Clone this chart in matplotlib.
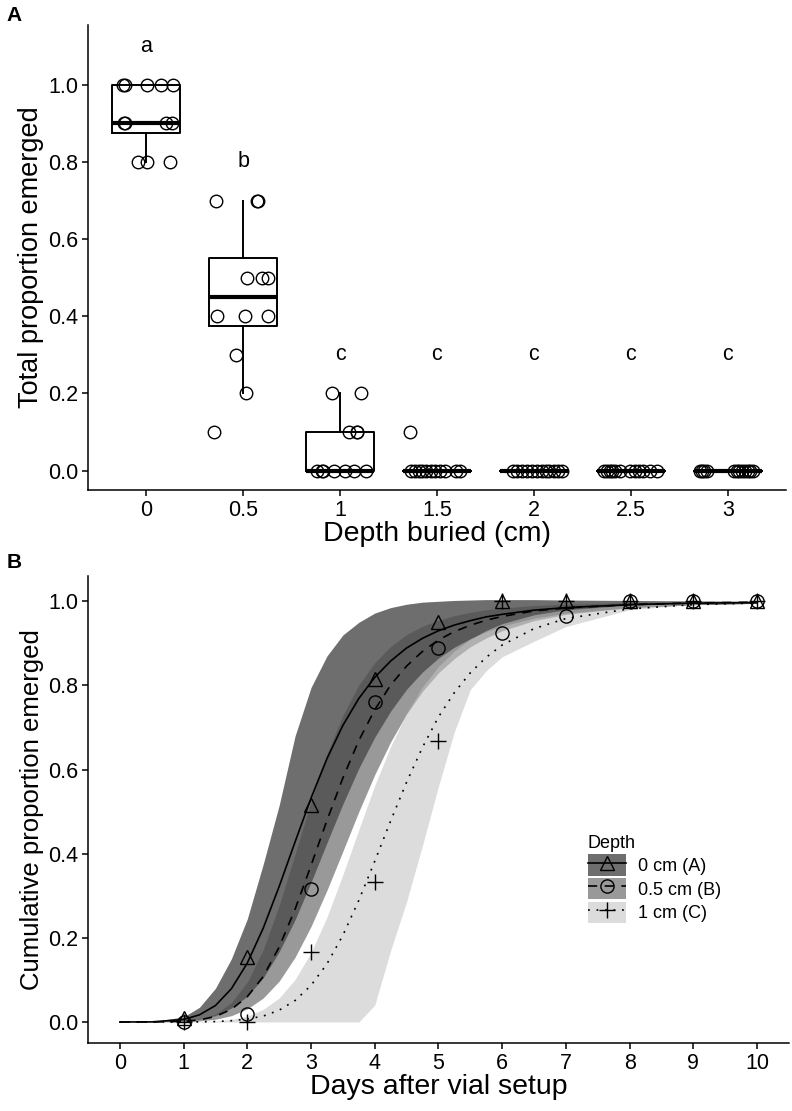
import numpy as np
import matplotlib
matplotlib.use("Agg")
import matplotlib.pyplot as plt
from matplotlib.patches import Patch
from matplotlib.lines import Line2D

plt.rcParams['font.family'] = ['Liberation Sans', 'DejaVu Sans']

# ---------------- panel A data ----------------
depths = ["0", "0.5", "1", "1.5", "2", "2.5", "3"]
letters = ["a", "b", "c", "c", "c", "c", "c"]
letters_y = [1.1, 0.8, 0.3, 0.3, 0.3, 0.3, 0.3]

prop_0 = [1, 1, 1, 1, 1, 0.9, 0.9, 0.9, 0.9, 0.8, 0.8, 0.8]
prop_05 = [0.7, 0.7, 0.7, 0.5, 0.5, 0.5, 0.4, 0.4, 0.4, 0.3, 0.2, 0.1]
prop_1 = [0.2, 0.2, 0.1, 0.1, 0.1, 0, 0, 0, 0, 0, 0, 0]
prop_15 = [0.1, 0, 0, 0, 0, 0, 0, 0, 0, 0, 0, 0]
prop_2 = [0] * 12
prop_25 = [0] * 12
prop_3 = [0] * 12

# horizontal jitter (category units)
jit_0 = [-0.24, -0.22, 0.01, 0.15, 0.28, -0.23, -0.22, 0.20, 0.27, -0.08, 0.01, 0.25]
jit_05 = [-0.28, 0.14, 0.155, 0.04, 0.20, 0.26, -0.27, 0.02, 0.26, -0.07, 0.03, -0.30]
jit_1 = [-0.08, 0.22, 0.09, 0.17, 0.18, -0.24, -0.19, -0.18, -0.06, 0.05, 0.14, 0.27]
jit_15 = [-0.28, -0.27, -0.23, -0.19, -0.15, -0.11, -0.06, -0.02, 0.03, 0.08, 0.2, 0.24]
jit_2 = [-0.22, -0.17, -0.12, -0.07, -0.02, 0.03, 0.08, 0.12, 0.16, 0.21, 0.25, 0.29]
jit_25 = [-0.28, -0.25, -0.22, -0.19, -0.16, -0.11, -0.01, 0.04, 0.08, 0.13, 0.2, 0.27]
jit_3 = [-0.29, -0.27, -0.25, -0.21, 0.06, 0.09, 0.12, 0.15, 0.18, 0.21, 0.23, 0.26]

props = [prop_0, prop_05, prop_1, prop_15, prop_2, prop_25, prop_3]
jits = [jit_0, jit_05, jit_1, jit_15, jit_2, jit_25, jit_3]

# ---------------- panel B data ----------------
days_obs = [1, 2, 3, 4, 5, 6, 7, 8, 9, 10]
obs_0 = [0.01, 0.155, 0.515, 0.815, 0.95, 1.0, 1.0, 1.0, 1.0, 1.0]
obs_05 = [0.0, 0.02, 0.315, 0.76, 0.89, 0.925, 0.965, 1.0, 1.0, 1.0]
obs_1 = [0.0, 0.0, 0.167, 0.333, 0.667, 1.0, 1.0, 1.0, 1.0, 1.0]

t = [0, 0.5, 1, 1.25, 1.5, 1.75, 2, 2.25, 2.5, 2.75, 3, 3.25, 3.5, 3.75,
     4, 4.25, 4.5, 4.75, 5, 5.25, 5.5, 5.75, 6, 6.5, 7, 8, 9, 10]
fit_0 = [0, 0.0002, 0.006, 0.017, 0.039, 0.079, 0.140, 0.223, 0.322, 0.428,
         0.532, 0.626, 0.705, 0.769, 0.819, 0.858, 0.889, 0.912, 0.930, 0.9435,
         0.954, 0.963, 0.969, 0.979, 0.985, 0.992, 0.9955, 0.997]
fit_05 = [0, 0.0, 0.0014, 0.0048, 0.013, 0.030, 0.060, 0.108, 0.178, 0.268,
          0.372, 0.479, 0.580, 0.669, 0.742, 0.801, 0.846, 0.881, 0.908, 0.928,
          0.943, 0.955, 0.964, 0.977, 0.984, 0.992, 0.996, 0.998]
fit_1 = [0, 0, 0.0001, 0.0003, 0.001, 0.003, 0.007, 0.014, 0.028, 0.051,
         0.087, 0.138, 0.206, 0.289, 0.382, 0.478, 0.570, 0.653, 0.725, 0.783,
         0.830, 0.867, 0.896, 0.935, 0.959, 0.982, 0.992, 0.996]

up_0 = [0, 0.0005, 0.012, 0.035, 0.08, 0.15, 0.245, 0.375, 0.515, 0.68,
        0.795, 0.87, 0.92, 0.95, 0.972, 0.985, 0.993, 0.998, 1.0, 1.002,
        1.003, 1.004, 1.004, 1.004, 1.003, 1.002, 1.001, 1.0]
lo_0 = [0, 0, 0.002, 0.006, 0.015, 0.033, 0.061, 0.105, 0.167, 0.243,
        0.332, 0.426, 0.518, 0.603, 0.677, 0.739, 0.791, 0.832, 0.865, 0.891,
        0.911, 0.928, 0.941, 0.960, 0.972, 0.985, 0.992, 0.995]
up_05 = [0, 0.0001, 0.002, 0.007, 0.019, 0.046, 0.095, 0.172, 0.277, 0.399,
         0.524, 0.637, 0.729, 0.801, 0.854, 0.893, 0.921, 0.941, 0.955, 0.966,
         0.974, 0.980, 0.984, 0.990, 0.993, 0.997, 0.9985, 0.999]
lo_05 = [0, 0, 0.0007, 0.0024, 0.0064, 0.015, 0.031, 0.057, 0.097, 0.154,
         0.227, 0.313, 0.406, 0.5, 0.588, 0.666, 0.732, 0.786, 0.830, 0.864,
         0.892, 0.913, 0.930, 0.954, 0.969, 0.985, 0.992, 0.9955]
up_1 = [0, 0, 0.0001, 0.0007, 0.0022, 0.0059, 0.014, 0.030, 0.057, 0.101,
        0.165, 0.249, 0.350, 0.457, 0.562, 0.655, 0.734, 0.797, 0.845, 0.882,
        0.910, 0.931, 0.947, 0.968, 0.980, 0.991, 0.996, 0.998]
lo_1 = [0, 0, 0, 0, 0, 0, 0, 0, 0, 0,
        0, 0, 0, 0, 0.04, 0.17, 0.286, 0.42, 0.56, 0.69,
        0.79, 0.835, 0.868, 0.905, 0.94, 0.98, 0.993, 0.998]

labels_b = ["0 cm (A)", "0.5 cm (B)", "1 cm (C)"]
band_cols = ["#000000", "#4c4c4c", "#c2c2c2"]
band_alpha = 0.57

fig = plt.figure(figsize=(7.92, 11.11), dpi=100)
axA = fig.add_axes([0.1111, 0.5590, 0.8813, 0.4185])
axB = fig.add_axes([0.1111, 0.0612, 0.885, 0.4203])

for ax in (axA, axB):
    for s in ("top", "right"):
        ax.spines[s].set_visible(False)
    for s in ("left", "bottom"):
        ax.spines[s].set_linewidth(1.1)
    ax.tick_params(direction="out", length=4, width=1.1, labelsize=15.5,
                   colors="black", pad=3)

# ---------------- panel A ----------------
pos = np.arange(len(depths))
axA.boxplot(props, positions=pos, widths=0.7, whis=1.5, showfliers=False,
            showcaps=False, patch_artist=False,
            boxprops=dict(linewidth=1.4, color="black"),
            whiskerprops=dict(linewidth=1.4, color="black"),
            medianprops=dict(linewidth=3.0, color="black"))
for i in range(len(depths)):
    axA.plot(pos[i] + np.array(jits[i]), props[i], linestyle="none",
             marker="o", markersize=9, markerfacecolor="none",
             markeredgecolor="black", markeredgewidth=1.0)
    axA.text(pos[i], letters_y[i], letters[i], ha="center", va="center",
             fontsize=15.5)
axA.set_xlim(-0.6, 6.6)
axA.set_ylim(-0.05, 1.155)
axA.set_xticks(pos)
axA.set_xticklabels(depths)
axA.set_yticks([0, 0.2, 0.4, 0.6, 0.8, 1.0])
axA.set_yticklabels(["0.0", "0.2", "0.4", "0.6", "0.8", "1.0"])
axA.set_xlabel("Depth buried (cm)", fontsize=20.5, labelpad=0)
axA.set_ylabel("Total proportion emerged", fontsize=19.5, labelpad=3)

# ---------------- panel B ----------------
for lo, up, col in zip([lo_0, lo_05, lo_1], [up_0, up_05, up_1], band_cols):
    axB.fill_between(t, lo, up, color=col, alpha=band_alpha, linewidth=0)

styles = ["-", (0, (5.5, 4.5)), (0, (1.1, 4.0))]
markers = ["^", "o", "+"]
msizes = [10, 9.5, 12]
for fit, obs, ls, mk, ms in zip([fit_0, fit_05, fit_1], [obs_0, obs_05, obs_1],
                                styles, markers, msizes):
    axB.plot(t, fit, color="black", linestyle=ls, linewidth=1.2)
    axB.plot(days_obs, obs, linestyle="none", marker=mk, markersize=ms,
             markerfacecolor="none", markeredgecolor="black", markeredgewidth=1.0)

axB.set_xlim(-0.5, 10.5)
axB.set_ylim(-0.05, 1.06)
axB.set_xticks(range(0, 11))
axB.set_yticks([0, 0.2, 0.4, 0.6, 0.8, 1.0])
axB.set_yticklabels(["0.0", "0.2", "0.4", "0.6", "0.8", "1.0"])
axB.set_xlabel("Days after vial setup", fontsize=20.5, labelpad=0)
axB.set_ylabel("Cumulative proportion emerged", fontsize=18.5, labelpad=3)

handles = []
for col, ls, mk, ms in zip(band_cols, styles, markers, msizes):
    p = Patch(facecolor=col, alpha=band_alpha, edgecolor="none")
    ln = Line2D([], [], color="black", linestyle=ls, linewidth=1.2, marker=mk,
                markersize=ms, markerfacecolor="none", markeredgecolor="black")
    handles.append((p, ln))
leg = axB.legend(handles, labels_b, title="Depth", loc="upper left",
                 bbox_to_anchor=(0.69, 0.48), frameon=False, fontsize=13,
                 title_fontsize=13, handlelength=2.1, handleheight=1.45,
                 labelspacing=0.12, handletextpad=0.7, alignment="left")

fig.text(0.008, 0.9946, "A", fontsize=15, fontweight="bold", va="top")
fig.text(0.008, 0.5023, "B", fontsize=15, fontweight="bold", va="top")

fig.savefig("out.png", dpi=100)
